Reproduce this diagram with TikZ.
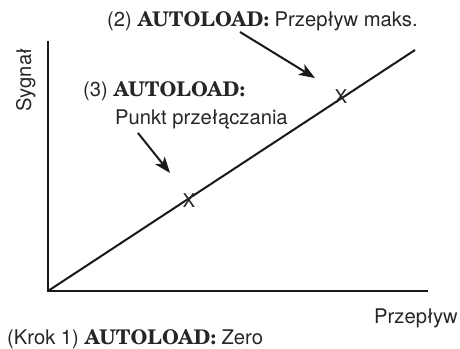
\documentclass[tikz,border=0pt]{standalone}
\usepackage{fontspec}
\setmainfont{TeX Gyre Heros}
\newfontfamily\slabfont{TeX Gyre Schola}
\usetikzlibrary{arrows.meta}
\newcommand{\autoload}{{\slabfont\bfseries AUTOLOAD:}}
\begin{document}
\begin{tikzpicture}[x=1pt,y=1pt,
    txt/.style={inner sep=0pt, anchor=base west, text=black!85, font=\fontsize{20.2}{24}\selectfont},
    axis/.style={line width=2.6pt, black!90},
    callout/.style={line width=2pt, black!90, -{Stealth[length=16pt,width=12pt,inset=4pt]}}]
  \useasboundingbox (0,0) rectangle (460,348);
  % axes
  \coordinate (O) at (48,57);
  \coordinate (ytop) at (48,307);
  \coordinate (xend) at (428,57);
  \coordinate (lend) at (415,298);
  \draw[axis] (ytop) -- (O) -- (xend);
  \draw[line width=2pt, black!90] (O) -- (lend);
  \node[txt, anchor=base, rotate=90] (ylab) at (31,268) {Sygnał};
  \node[txt, anchor=base east] (xlab) at (458,25) {Przepływ};
  % marks on the line
  \node[txt, anchor=center, font=\fontsize{19}{20}\selectfont] (mmax) at (341,251) {X};
  \node[txt, anchor=center, font=\fontsize{19}{20}\selectfont] (mswitch) at (189,147) {X};
  % labels
  \node[txt] (lbltwo) at (107,321) {(2) \autoload{} Przepływ maks.};
  \node[txt] (lblthree) at (83,251) {(3) \autoload};
  \node[txt] (lblpunkt) at (115,223) {Punkt przełączania};
  \node[txt] (lblone) at (7,4) {(Krok 1) \autoload{} Zero};
  % arrows
  \coordinate (atwo) at (240,316);
  \coordinate (ttwo) at (315,270);
  \coordinate (athree) at (138,215);
  \coordinate (tthree) at (170,175);
  \draw[callout] (atwo) -- (ttwo);
  \draw[callout] (athree) -- (tthree);
\end{tikzpicture}
\end{document}
